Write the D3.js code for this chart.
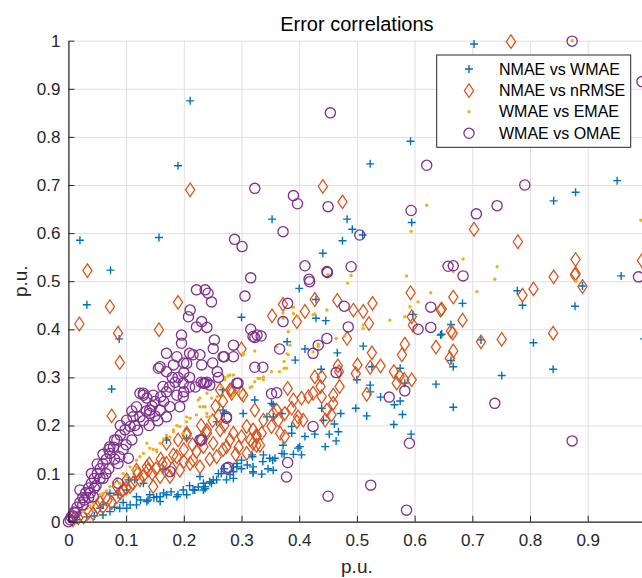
<!DOCTYPE html>
<html>
<head>
<meta charset="utf-8">
<script src="https://cdn.jsdelivr.net/npm/d3@7"></script>
<style>
  body { margin: 0; background: #fff; }
  text { font-family: "Liberation Sans", Arial, Helvetica, sans-serif; fill: #262626; }
</style>
</head>
<body>
<div class="canvas"></div>
<script>
// series: [x, y] in p.u.
const nmaeWmae = [
  [0.211,0.875],[0.19,0.74],[0.02,0.585],[0.157,0.591],[0.073,0.523],[0.353,0.629],[0.483,0.629],[0.492,0.608],
  [0.475,0.584],[0.441,0.558],[0.703,0.993],[0.593,0.791],[0.523,0.744],[0.951,0.709],[0.879,0.685],[0.841,0.667],
  [0.595,0.622],[0.51,0.596],[0.958,0.511],[0.891,0.49],[0.878,0.448],[0.778,0.48],[0.787,0.45],[0.683,0.454],
  [0.663,0.41],[0.647,0.39],[0.715,0.378],[0.806,0.372],[0.84,0.317],[0.751,0.304],[0.663,0.335],[0.667,0.322],
  [0.667,0.238],[0.998,0.38],
  [0.032,0.451],[0.088,0.38],[0.075,0.276],[0.3,0.425],[0.4,0.485],[0.429,0.462],[0.429,0.423],[0.446,0.418],
  [0.379,0.374],[0.41,0.359],[0.393,0.336],[0.466,0.351],[0.438,0.317],[0.511,0.365],[0.526,0.322],[0.5,0.295],
  [0.523,0.284],[0.523,0.27],[0.541,0.259],[0.575,0.319],[0.583,0.288],[0.565,0.243],[0.575,0.251],[0.579,0.223],
  [0.564,0.202],[0.594,0.182],[0.637,0.286],[0.645,0.388],[0.597,0.431],[0.498,0.236],[0.517,0.22],[0.472,0.225],
  [0.439,0.236],[0.442,0.211],[0.461,0.203],[0.468,0.187],[0.464,0.168],[0.445,0.156],[0.452,0.182],[0.427,0.182],
  [0.41,0.177],[0.401,0.156],[0.39,0.14],[0.404,0.139],[0.387,0.184],[0.372,0.159],[0.37,0.142],[0.358,0.132],
  [0.349,0.132],[0.337,0.125],[0.338,0.139],[0.355,0.107],[0.346,0.11],[0.335,0.099],[0.32,0.104],[0.319,0.135],
  [0.323,0.253],[0.355,0.243],[0.355,0.218],[0.37,0.225],[0.387,0.198],[0.344,0.218],[0.267,0.274],[0.268,0.232],
  [0.303,0.225],[0.257,0.208],[0.205,0.173],[0.17,0.17],[0.164,0.109],
  [0.014,0.004],[0.032,0.01],[0.045,0.012],[0.055,0.028],[0.06,0.014],[0.06,0.035],[0.072,0.021],[0.072,0.059],
  [0.08,0.03],[0.086,0.056],[0.089,0.028],[0.095,0.04],[0.101,0.028],[0.101,0.066],[0.104,0.087],[0.107,0.035],
  [0.115,0.087],[0.118,0.035],[0.118,0.052],[0.125,0.045],[0.13,0.08],[0.136,0.042],[0.138,0.045],[0.141,0.056],
  [0.148,0.05],[0.153,0.052],[0.159,0.042],[0.159,0.052],[0.165,0.06],[0.17,0.056],[0.178,0.062],[0.188,0.052],
  [0.19,0.056],[0.199,0.066],[0.205,0.056],[0.21,0.075],[0.216,0.066],[0.219,0.066],[0.225,0.072],[0.234,0.08],
  [0.234,0.066],[0.237,0.069],[0.245,0.083],[0.248,0.08],[0.251,0.087],[0.257,0.087],[0.265,0.1],[0.274,0.087],
  [0.28,0.098],[0.286,0.09],[0.286,0.104],[0.292,0.114],[0.292,0.121],[0.3,0.11],[0.31,0.118],[0.318,0.139],
  [0.32,0.101],[0.32,0.114],[0.3,0.128],[0.228,0.094],[0.237,0.073],[0.27,0.225],[0.352,0.246],[0.374,0.141],
  [0.398,0.153],[0.354,0.128],[0.286,0.114],[0.26,0.1],[0.27,0.11]
];

const nmaeNrmse = [
  [0.211,0.69],[0.033,0.522],[0.441,0.697],[0.475,0.665],[0.767,0.998],[0.703,0.608],[0.779,0.582],[0.879,0.545],
  [0.879,0.516],[0.841,0.509],[0.994,0.543],[0.878,0.513],[0.891,0.489],[0.806,0.484],[0.787,0.471],[0.667,0.467],
  [0.647,0.442],[0.683,0.419],[0.663,0.396],[0.666,0.392],[0.715,0.374],[0.751,0.379],[0.84,0.392],[0.667,0.355],
  [0.661,0.34],
  [0.072,0.447],[0.019,0.411],[0.086,0.392],[0.089,0.331],[0.075,0.22],[0.19,0.456],[0.157,0.399],[0.3,0.359],
  [0.283,0.274],[0.303,0.263],[0.205,0.184],[0.182,0.139],
  [0.353,0.428],[0.372,0.452],[0.396,0.416],[0.41,0.437],[0.427,0.462],[0.466,0.46],[0.494,0.44],[0.511,0.437],
  [0.521,0.412],[0.527,0.454],[0.483,0.381],[0.593,0.476],[0.595,0.426],[0.597,0.409],[0.645,0.44],[0.637,0.363],
  [0.583,0.369],[0.578,0.347],[0.526,0.351],[0.541,0.324],[0.523,0.321],[0.501,0.326],[0.498,0.308],[0.517,0.265],
  [0.564,0.312],[0.574,0.303],[0.569,0.288],[0.582,0.296],[0.595,0.295],[0.467,0.324],[0.469,0.312],[0.47,0.281],
  [0.459,0.263],[0.459,0.246],[0.448,0.232],[0.439,0.301],[0.427,0.301],[0.437,0.281],[0.439,0.26],[0.424,0.267],
  [0.416,0.26],[0.404,0.257],[0.39,0.253],[0.38,0.277],[0.387,0.236],[0.398,0.218],[0.375,0.225],[0.361,0.232],
  [0.355,0.225],[0.364,0.211],[0.352,0.198],[0.338,0.211],[0.335,0.184],[0.323,0.232],[0.326,0.177],[0.32,0.163],
  [0.367,0.184],[0.375,0.177],[0.332,0.159],[0.396,0.208],[0.407,0.211],[0.445,0.211],[0.456,0.222],
  [0.008,0.004],[0.017,0.008],[0.026,0.01],[0.035,0.02],[0.043,0.017],[0.05,0.03],[0.06,0.031],[0.068,0.045],
  [0.075,0.04],[0.084,0.052],[0.084,0.073],[0.09,0.06],[0.095,0.066],[0.101,0.087],[0.107,0.073],[0.112,0.08],
  [0.118,0.107],[0.124,0.087],[0.13,0.095],[0.136,0.114],[0.138,0.107],[0.145,0.1],[0.147,0.073],[0.152,0.11],
  [0.159,0.094],[0.163,0.12],[0.17,0.121],[0.17,0.163],[0.176,0.094],[0.18,0.11],[0.188,0.135],[0.193,0.107],
  [0.2,0.125],[0.205,0.18],[0.211,0.121],[0.216,0.128],[0.222,0.146],[0.228,0.114],[0.234,0.156],[0.24,0.184],
  [0.245,0.13],[0.251,0.163],[0.257,0.135],[0.263,0.191],[0.268,0.15],[0.274,0.156],[0.28,0.17],[0.286,0.184],
  [0.29,0.14],[0.3,0.177],[0.3,0.267],[0.283,0.267],[0.263,0.274],[0.309,0.142],[0.309,0.198],[0.32,0.191],
  [0.326,0.18],[0.326,0.159],[0.315,0.17],[0.295,0.155],[0.28,0.274],[0.23,0.17],[0.24,0.19],[0.215,0.16],
  [0.26,0.22],[0.27,0.2],[0.2,0.15],[0.19,0.17],[0.16,0.13],[0.14,0.12],[0.12,0.1],[0.1,0.07],[0.065,0.05],
  [0.055,0.04],[0.268,0.25],[0.255,0.24],[0.25,0.21],[0.23,0.2]
];

const wmaeEmae = [
  [0.008,0.007],[0.014,0.012],[0.02,0.017],[0.026,0.022],[0.032,0.028],[0.038,0.033],[0.043,0.038],[0.05,0.046],
  [0.055,0.056],[0.06,0.059],[0.066,0.064],[0.072,0.073],[0.078,0.08],[0.084,0.09],[0.089,0.08],[0.095,0.1],
  [0.101,0.094],[0.107,0.114],[0.112,0.108],[0.118,0.128],[0.118,0.114],[0.124,0.135],[0.13,0.142],[0.136,0.163],
  [0.141,0.153],[0.147,0.15],[0.153,0.149],[0.153,0.146],[0.159,0.163],[0.165,0.172],[0.17,0.18],[0.176,0.176],
  [0.182,0.191],[0.182,0.187],[0.188,0.2],[0.193,0.198],[0.199,0.184],[0.205,0.208],[0.205,0.218],[0.211,0.215],
  [0.222,0.222],[0.225,0.253],[0.228,0.257],[0.228,0.239],[0.234,0.239],[0.237,0.239],[0.24,0.225],[0.24,0.267],
  [0.24,0.218],[0.245,0.218],[0.248,0.257],[0.258,0.26],[0.265,0.28],[0.271,0.3],[0.271,0.295],[0.277,0.303],
  [0.28,0.305],[0.286,0.305],[0.286,0.263],[0.297,0.27],[0.303,0.347],[0.303,0.35],[0.315,0.279],[0.318,0.281],
  [0.323,0.291],[0.323,0.355],[0.329,0.298],[0.332,0.298],[0.338,0.295],[0.338,0.301],[0.352,0.312],[0.366,0.312],
  [0.374,0.319],[0.378,0.319],[0.374,0.333],[0.379,0.349],[0.381,0.347],[0.361,0.364],[0.372,0.423],[0.372,0.434],
  [0.381,0.395],[0.39,0.446],[0.39,0.433],[0.398,0.426],[0.424,0.43],[0.427,0.432],[0.448,0.44],[0.424,0.353],
  [0.433,0.364],[0.433,0.369],[0.384,0.367],[0.464,0.381],[0.479,0.386],[0.511,0.409],[0.511,0.402],[0.557,0.419],
  [0.583,0.426],[0.592,0.447],[0.606,0.457],[0.628,0.476],[0.586,0.511],[0.484,0.496],[0.45,0.514],[0.49,0.512],
  [0.594,0.604],[0.621,0.658],[0.684,0.546],[0.743,0.53],[0.739,0.504],[0.708,0.478],[0.992,0.627],[0.873,1.0],
  [0.667,0.52],[0.88,0.5]
];

const wmaeOmae = [
  [0.454,0.85],[0.323,0.693],[0.39,0.678],[0.397,0.661],[0.45,0.655],[0.372,0.603],[0.288,0.587],[0.301,0.572],
  [0.41,0.532],[0.49,0.53],[0.449,0.518],[0.316,0.507],[0.417,0.504],[0.505,0.596],[0.873,0.999],[0.621,0.741],
  [0.791,0.7],[0.743,0.657],[0.707,0.64],[0.594,0.647],[0.994,0.915],[0.667,0.532],[0.684,0.511],[0.988,0.509],
  [0.739,0.246],[0.873,0.168],[0.658,0.531],
  [0.237,0.482],[0.242,0.475],[0.248,0.457],[0.306,0.469],[0.418,0.499],[0.448,0.52],[0.38,0.454],[0.372,0.416],
  [0.24,0.404],[0.231,0.416],[0.316,0.4],[0.323,0.383],[0.334,0.386],[0.253,0.378],[0.251,0.36],[0.286,0.367],
  [0.286,0.343],[0.27,0.343],[0.366,0.359],[0.424,0.35],[0.433,0.367],[0.448,0.381],[0.478,0.448],[0.485,0.405],
  [0.323,0.321],[0.337,0.321],[0.258,0.312],[0.231,0.326],[0.237,0.288],[0.245,0.284],[0.294,0.288],[0.352,0.266],
  [0.361,0.268],[0.464,0.31],[0.628,0.446],[0.628,0.404],[0.606,0.4],[0.583,0.272],[0.556,0.259],[0.591,0.163],
  [0.274,0.215],[0.231,0.17],[0.424,0.198],[0.38,0.123],[0.378,0.093],[0.277,0.113],[0.524,0.076],[0.45,0.053],
  [0.586,0.024],[0.32,0.385],[0.327,0.388],[0.159,0.322],[0.17,0.35],[0.188,0.343],[0.211,0.44],[0.208,0.426],
  [0.222,0.405],[0.222,0.482],[0.196,0.388],[0.196,0.371],[0.268,0.343],[0.292,0.288],[0.228,0.347],[0.216,0.347],
  [0.205,0.329],[0.182,0.326],[0.17,0.312],[0.156,0.319],[0.199,0.288],[0.234,0.288],[0.274,0.218],[0.228,0.17],
  [0.176,0.104],[0.086,0.08],[0.274,0.111],[0.089,0.135],[0.104,0.132],
  [0.188,0.263],[0.199,0.26],[0.176,0.239],[0.193,0.239],[0.17,0.218],[0.164,0.281],[0.147,0.263],[0.136,0.257],
  [0.13,0.263],[0.159,0.232],[0.141,0.225],[0.124,0.218],[0.118,0.239],[0.112,0.218],[0.107,0.198],[0.098,0.191],
  [0.09,0.18],[0.084,0.17],[0.078,0.155],[0.072,0.142],[0.066,0.13],[0.06,0.12],[0.055,0.11],[0.05,0.1],
  [0.045,0.09],[0.04,0.08],[0.035,0.07],[0.03,0.06],[0.025,0.05],[0.02,0.04],[0.015,0.03],[0.01,0.02],
  [0.005,0.01],[0.003,0.004],
  [0.02,0.066],[0.043,0.052],[0.06,0.09],[0.072,0.156],[0.086,0.121],[0.101,0.211],[0.124,0.267],[0.13,0.267],
  [0.141,0.232],[0.15,0.25],[0.16,0.26],[0.17,0.27],[0.18,0.3],[0.19,0.3],[0.2,0.31],[0.21,0.3],[0.22,0.28],
  [0.11,0.17],[0.1,0.16],[0.095,0.15],[0.08,0.13],[0.07,0.11],[0.065,0.1],[0.055,0.09],[0.048,0.075],
  [0.038,0.06],[0.028,0.045],[0.115,0.2],[0.12,0.19],[0.13,0.21],[0.135,0.23],[0.145,0.24],[0.155,0.21],
  [0.165,0.25],[0.175,0.28],[0.185,0.29],[0.11,0.23],[0.09,0.2],[0.08,0.17],[0.07,0.15],[0.06,0.14],
  [0.05,0.12],[0.04,0.1],[0.045,0.07],[0.035,0.05],[0.025,0.035],[0.012,0.018],[0,0],[0.008,0.012],
  [0.14,0.2],[0.15,0.22],[0.2,0.27],[0.21,0.28],[0.24,0.29],[0.23,0.29],[0.26,0.3],[0.21,0.35],[0.2,0.33],[0.25,0.33]
];

const seriesNames = ['NMAE vs WMAE', 'NMAE vs nRMSE', 'WMAE vs EMAE', 'WMAE vs OMAE'];
const tickValues = [0, 0.1, 0.2, 0.3, 0.4, 0.5, 0.6, 0.7, 0.8, 0.9, 1];
const tickLabels = ['0', '0.1', '0.2', '0.3', '0.4', '0.5', '0.6', '0.7', '0.8', '0.9', '1'];

const colors = ['#0072BD', '#D95319', '#EDB120', '#7E2F8E'];

const width = 642, height = 578;
const margin = { top: 40.7, right: -3.4, bottom: 56.3, left: 68.4 };
const graphWidth = width - margin.left - margin.right;
const graphHeight = height - margin.top - margin.bottom;

const svg = d3.select('.canvas').append('svg')
    .attr('width', width)
    .attr('height', height)
    .style('display', 'block');

const graph = svg.append('g')
    .attr('transform', `translate(${margin.left}, ${margin.top})`);

const x = d3.scaleLinear().domain([0, 1]).range([0, graphWidth]);
const y = d3.scaleLinear().domain([0, 1]).range([graphHeight, 0]);

// grid
graph.append('g')
    .attr('class', 'grid')
    .attr('transform', `translate(0, ${graphHeight})`)
    .call(d3.axisBottom(x).tickValues(tickValues).tickSize(-graphHeight).tickFormat(''))
    .call(g => g.select('.domain').remove());
graph.append('g')
    .attr('class', 'grid')
    .call(d3.axisLeft(y).tickValues(tickValues).tickSize(-graphWidth).tickFormat(''))
    .call(g => g.select('.domain').remove());
graph.selectAll('.grid line').attr('stroke', '#dfdfdf').attr('stroke-width', 1);

// marker shapes
const plusPath = 'M-4,0H4M0,-4V4';
const diamondPath = 'M0,-6.8L4.6,0L0,6.8L-4.6,0Z';

const plot = graph.append('g');

plot.selectAll('.s0').data(nmaeWmae).enter().append('path')
    .attr('class', 's0')
    .attr('d', plusPath)
    .attr('transform', d => `translate(${x(d[0])},${y(d[1])})`)
    .attr('fill', 'none').attr('stroke', colors[0]).attr('stroke-width', 1.4);

plot.selectAll('.s1').data(nmaeNrmse).enter().append('path')
    .attr('class', 's1')
    .attr('d', diamondPath)
    .attr('transform', d => `translate(${x(d[0])},${y(d[1])})`)
    .attr('fill', 'none').attr('stroke', colors[1]).attr('stroke-width', 1.25);

plot.selectAll('.s2').data(wmaeEmae).enter().append('circle')
    .attr('class', 's2')
    .attr('cx', d => x(d[0]))
    .attr('cy', d => y(d[1]))
    .attr('r', 1.7)
    .attr('fill', colors[2]);

plot.selectAll('.s3').data(wmaeOmae).enter().append('circle')
    .attr('class', 's3')
    .attr('cx', d => x(d[0]))
    .attr('cy', d => y(d[1]))
    .attr('r', 5.1)
    .attr('fill', 'none').attr('stroke', colors[3]).attr('stroke-width', 1.3);

// axes
const xAxisGroup = graph.append('g')
    .attr('transform', `translate(0, ${graphHeight})`)
    .call(d3.axisBottom(x).tickValues(tickValues).tickFormat((d, i) => tickLabels[i])
        .tickSizeInner(-6).tickSizeOuter(0).tickPadding(12));
const yAxisGroup = graph.append('g')
    .call(d3.axisLeft(y).tickValues(tickValues).tickFormat((d, i) => tickLabels[i])
        .tickSizeInner(-6).tickSizeOuter(0).tickPadding(8));

[xAxisGroup, yAxisGroup].forEach(g => {
  g.select('.domain').attr('stroke', '#262626').attr('stroke-width', 1.2);
  g.selectAll('.tick line').attr('stroke', '#262626');
  g.selectAll('text').attr('font-size', 17).attr('fill', '#262626')
      .style('font-family', '"Liberation Sans", Arial, sans-serif');
});

// title and labels
svg.append('text')
    .attr('x', margin.left + graphWidth / 2)
    .attr('y', 31)
    .attr('text-anchor', 'middle')
    .attr('font-size', 20)
    .style('fill', '#000')
    .text('Error correlations');

svg.append('text')
    .attr('x', margin.left + graphWidth / 2)
    .attr('y', 573)
    .attr('text-anchor', 'middle')
    .attr('font-size', 19)
    .text('p.u.');

svg.append('text')
    .attr('transform', `translate(27, ${margin.top + graphHeight / 2}) rotate(-90)`)
    .attr('text-anchor', 'middle')
    .attr('font-size', 19)
    .text('p.u.');

// legend
const legend = svg.append('g').attr('transform', 'translate(436.7, 55)');
legend.append('rect')
    .attr('width', 194).attr('height', 92.3)
    .attr('fill', '#fff').attr('stroke', '#262626').attr('stroke-width', 1);

const rowY = [14, 35.7, 56.7, 78.3];
seriesNames.forEach((name, i) => {
  const row = legend.append('g').attr('transform', `translate(32.3, ${rowY[i]})`);
  if (i === 0) row.append('path').attr('d', plusPath).attr('fill', 'none').attr('stroke', colors[0]).attr('stroke-width', 1.4);
  if (i === 1) row.append('path').attr('d', diamondPath).attr('fill', 'none').attr('stroke', colors[1]).attr('stroke-width', 1.25);
  if (i === 2) row.append('circle').attr('r', 1.7).attr('fill', colors[2]);
  if (i === 3) row.append('circle').attr('r', 5.1).attr('fill', 'none').attr('stroke', colors[3]).attr('stroke-width', 1.3);
  row.append('text')
      .attr('x', 30)
      .attr('dy', '0.36em')
      .attr('font-size', 16)
      .style('fill', '#000')
      .text(name);
});
</script>
</body>
</html>
